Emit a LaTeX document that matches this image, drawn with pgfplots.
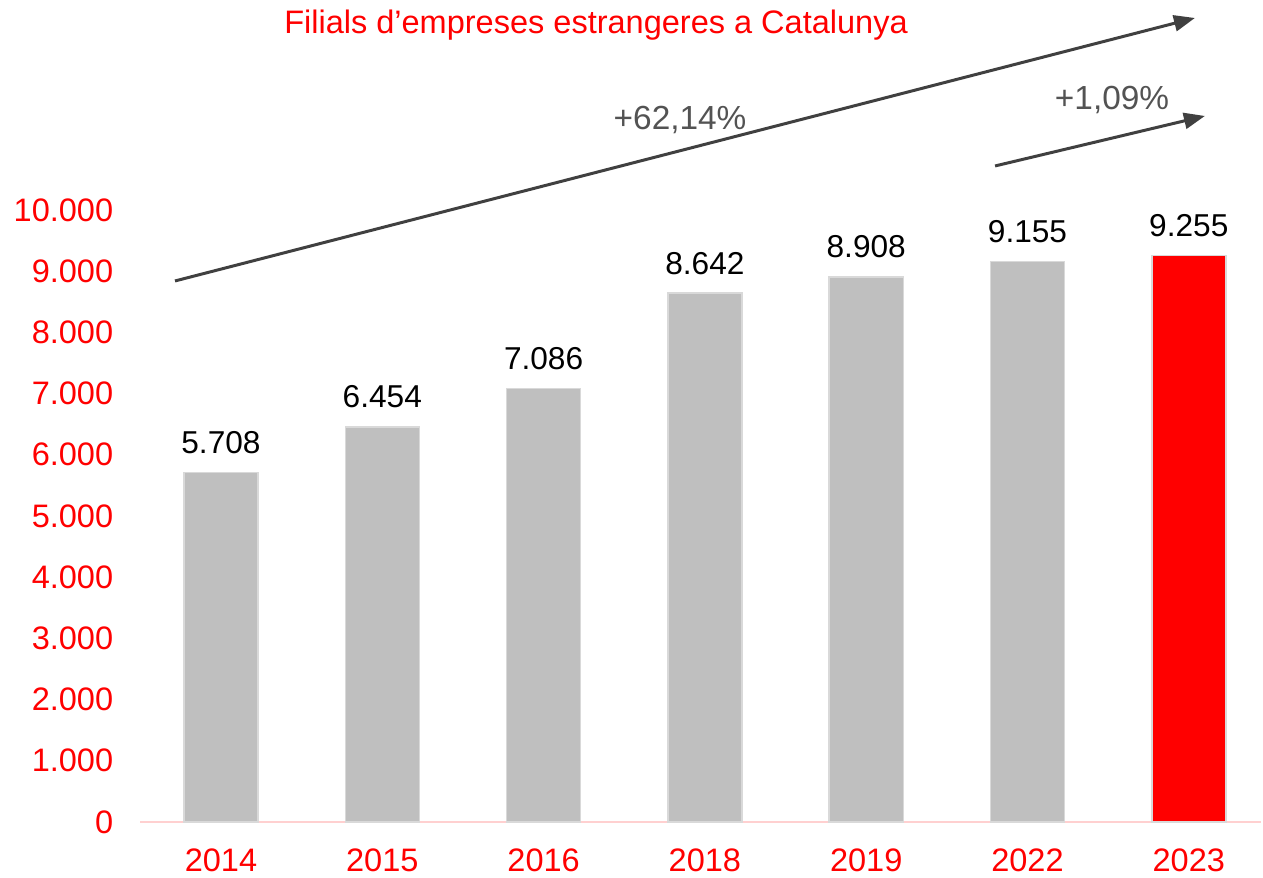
\documentclass[border=0pt]{standalone}
\usepackage{pgfplots}
\pgfplotsset{compat=1.18}
\usepackage{fontspec}
\setmainfont{Liberation Sans}
\usetikzlibrary{arrows.meta}
\definecolor{barred}{HTML}{FF0000}
\definecolor{bargray}{HTML}{BFBFBF}
\definecolor{baredge}{HTML}{D9D9D9}
\definecolor{arrowgray}{HTML}{404040}
\definecolor{axispink}{HTML}{FFD0D0}
\begin{document}
\begin{tikzpicture}
\begin{axis}[
    scale only axis,
    width=22.42cm,
    height=12.24cm,
    xmin=-0.5, xmax=6.45,
    ymin=0, ymax=10000,
    clip=false,
    axis x line=bottom,
    axis y line=left,
    x axis line style={draw=axispink, line width=1pt, -},
    y axis line style={draw=none},
    major tick length=0pt,
    xtick={0,...,6},
    xticklabels={2014,2015,2016,2018,2019,2022,2023},
    ytick={0,1000,...,10000},
    scaled y ticks=false,
    /pgf/number format/fixed,
    /pgf/number format/precision=0,
    /pgf/number format/1000 sep={.},
    /pgf/number format/assume math mode=true,
    ticklabel style={font=\fontsize{18.5}{22}\selectfont, text=barred},
    yticklabel style={xshift=-0.42cm},
    xticklabel style={yshift=-0.42cm},
    ybar,
    bar width=1.48cm,
    bar shift=0pt,
    nodes near coords,
    nodes near coords style={font=\fontsize{18}{21}\selectfont, text=black, anchor=south, inner sep=0pt, yshift=0.36cm,
        /pgf/number format/fixed, /pgf/number format/precision=0,
        /pgf/number format/1000 sep={.}, /pgf/number format/assume math mode=true},
]
\addplot[fill=bargray, draw=baredge, line width=0.8pt] coordinates {
    (0,5708) (1,6454) (2,7086) (3,8642) (4,8908) (5,9155)
};
\addplot[fill=barred, draw=baredge, line width=0.8pt] coordinates {
    (6,9255)
};
\draw[arrowgray, line width=1.7pt, -{Triangle[length=0.42cm, width=0.32cm]}]
    (axis cs:-0.285,8840) -- (axis cs:6.038,13137);
\draw[arrowgray, line width=1.7pt, -{Triangle[length=0.42cm, width=0.32cm]}]
    (axis cs:4.799,10719) -- (axis cs:6.100,11536);
\node[text=arrowgray!90, font=\fontsize{19}{22}\selectfont] at (axis cs:2.846,11471) {+62,14\%};
\node[text=arrowgray!90, font=\fontsize{19}{22}\selectfont] at (axis cs:5.524,11797) {+1,09\%};
\node[text=barred, font=\fontsize{18.5}{22}\selectfont] at (axis cs:2.325,13023) {Filials d’empreses estrangeres a Catalunya};
\coordinate (bl) at (axis cs:-1.370,-899);
\coordinate (tr) at (axis cs:6.460,13431);
\end{axis}
\pgfresetboundingbox
\path[use as bounding box] (bl) rectangle (tr);
\end{tikzpicture}
\end{document}
